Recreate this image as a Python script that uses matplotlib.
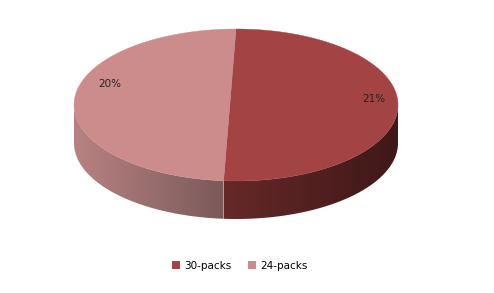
import numpy as np
import matplotlib.pyplot as plt
from matplotlib.patches import Polygon, Patch
from matplotlib.colors import LinearSegmentedColormap

labels = ['30-packs', '24-packs']
shares = [21, 20]
pct_labels = ['21%', '20%']
top_colors = ['#a34343', '#cd8c8c']
# side gradients, left -> right
side_colors = [('#672828', '#3f1818'), ('#b88282', '#7b5a5a')]

# ellipse geometry in pixels
cx, cy, rx, ry, depth = 236, 105, 162, 76, 38


def pt(theta):
    # theta in degrees, clockwise from 12 o'clock
    th = np.radians(theta)
    return cx + rx * np.sin(th), cy - ry * np.cos(th)


fig = plt.figure(figsize=(4.94, 2.93), dpi=100)
ax = fig.add_axes([0, 0, 1, 1])

fracs = np.array(shares) / sum(shares)
bounds = np.concatenate([[0], np.cumsum(fracs) * 360])

# sides first
for i in range(len(shares)):
    lo = max(bounds[i], 90)
    hi = min(bounds[i + 1], 270)
    if lo >= hi:
        continue
    t = np.linspace(lo, hi, 120)
    x, y = pt(t)
    verts = np.vstack([np.column_stack([x, y]),
                       np.column_stack([x[::-1], y[::-1] + depth])])
    poly = Polygon(verts, closed=True, facecolor='none', edgecolor='none')
    ax.add_patch(poly)
    cmap = LinearSegmentedColormap.from_list('g%d' % i, list(side_colors[i]))
    grad = np.linspace(0, 1, 256).reshape(1, -1)
    im = ax.imshow(grad, cmap=cmap, aspect='auto', interpolation='bilinear',
                   extent=[x.min(), x.max(), y.max() + depth, y.min()])
    im.set_clip_path(poly)

# perspective: apex sits on the straight line joining the first split points
x0, y0 = pt(bounds[0])
x1, y1 = pt(bounds[1])
ax_x = x0 + (x1 - x0) * (cy - y0) / (y1 - y0)

# top wedges
for i in range(len(shares)):
    t = np.linspace(bounds[i], bounds[i + 1], 200)
    x, y = pt(t)
    verts = np.vstack([[ax_x, cy], np.column_stack([x, y])])
    ax.add_patch(Polygon(verts, closed=True, facecolor=top_colors[i],
                         edgecolor=top_colors[i], lw=0.3))

# percent labels
label_shift = [-8, 17]
for i in range(len(shares)):
    mid = (bounds[i] + bounds[i + 1]) / 2 + label_shift[i]
    th = np.radians(mid)
    lx = cx + 2 + 0.84 * rx * np.sin(th)
    ly = cy - 0.84 * ry * np.cos(th)
    ax.text(lx, ly, pct_labels[i], ha='center', va='center', fontsize=7.5,
            color='#222222')

ax.set_xlim(0, 494)
ax.set_ylim(293, 0)
ax.axis('off')

handles = [Patch(facecolor=c, edgecolor='none') for c in top_colors]
ax.legend(handles, labels, loc='center', bbox_to_anchor=(0.486, 0.093),
          ncol=2, frameon=False, fontsize=7.5, handlelength=0.75,
          handleheight=0.75, handletextpad=0.4, columnspacing=1.6)

fig.savefig('out.png', dpi=100)
